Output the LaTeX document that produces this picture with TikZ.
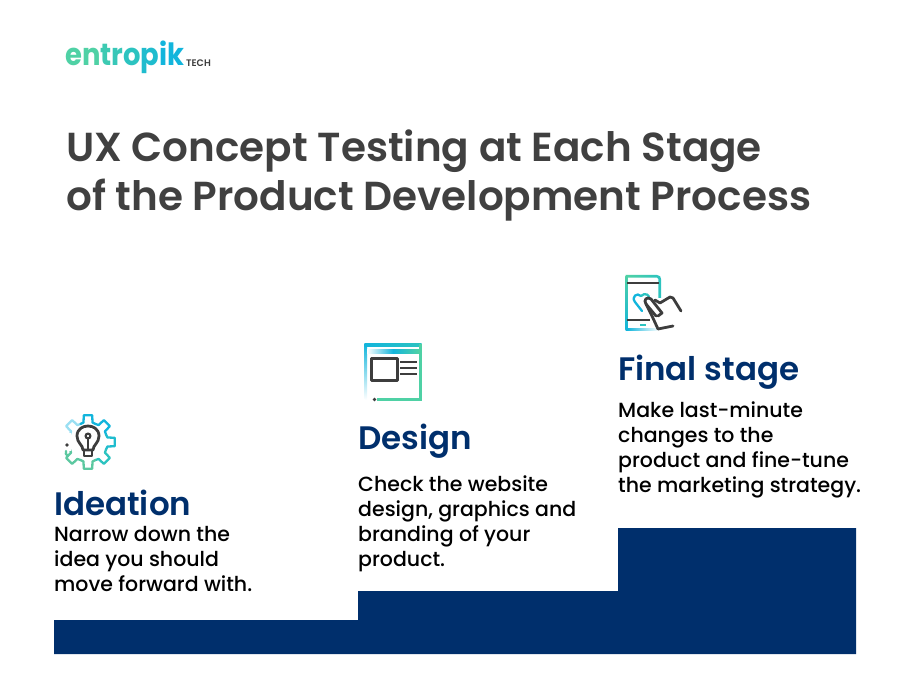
\documentclass[tikz,border=0pt]{standalone}
\usepackage{fontspec}
\setmainfont{Poppins Medium}[BoldFont={Poppins SemiBold}]
\newfontfamily\logofont{Poppins Bold}
\definecolor{navy}{HTML}{002F6C}
\definecolor{titlegray}{HTML}{404040}
\definecolor{ink}{HTML}{3D3D3D}
\definecolor{tealA}{HTML}{4FD1A5}
\definecolor{tealB}{HTML}{2CC3C0}
\definecolor{blueA}{HTML}{12B5DC}
\definecolor{blueB}{HTML}{9ADFF2}
\definecolor{greenA}{HTML}{5CC8A0}
\tikzset{
  titletext/.style={anchor=west,inner sep=0pt,text=titlegray,font=\fontsize{40.5}{40}\selectfont\bfseries},
  headtext/.style={anchor=west,inner sep=0pt,text=navy,font=\fontsize{32.5}{32}\selectfont\bfseries},
  bodytext/.style={anchor=north west,inner sep=0pt,align=left,text=black,font=\fontsize{20.5}{25}\selectfont},
  iconline/.style={line width=2.3pt,line join=round,line cap=round},
  inkline/.style={line width=2.8pt,draw=ink,line join=round,line cap=round},
}
\begin{document}
\begin{tikzpicture}[x=1pt,y=-1pt]
\useasboundingbox (0,0) rectangle (900,692);
% logo
\node[anchor=west,inner sep=0pt,yscale=1.12,font=\logofont\fontsize{27.4}{28}\selectfont] (logo) at (65,57.5)
 {\textcolor{tealA}{e}\textcolor{tealA}{n}\textcolor{tealB!50!tealA}{t}\textcolor{tealB!70!tealA}{r}\textcolor{tealB}{o}\textcolor{tealB!50!blueA}{p}\textcolor{blueA}{i}\textcolor{blueA}{k}};
\node[anchor=west,inner sep=0pt,text=ink,font=\fontsize{9.5}{10}\selectfont\bfseries] (tech) at (186,63) {TECH};
% title
\node[titletext] (t1) at (66,151) {UX Concept Testing at Each Stage};
\node[titletext] (t2) at (66,200) {of the Product Development Process};
% stairs
\fill[navy] (54,620) -- (358,620) -- (358,591) -- (618,591) -- (618,528) -- (856,528) -- (856,654) -- (54,654) -- cycle;
% headings and body
\node[headtext] (h1) at (54,503) {Ideation};
\node[bodytext] (b1) at (54,526) {Narrow down the\\idea you should\\move forward with.};
\node[headtext] (h2) at (358,441) {Design};
\node[bodytext] (b2) at (358,476) {Check the website\\design, graphics and\\branding of your\\product.};
\node[headtext] (h3) at (618,372) {Final stage};
\node[bodytext] (b3) at (618,402) {Make last-minute\\changes to the\\product and fine-tune\\the marketing strategy.};
% ideation icon: gear
\begin{scope}[shift={(88,442)}]
  \foreach \a/\c in {135/blueB,90/blueA,45/blueA,0/blueA!50!tealB,-45/tealB,-90/greenA,-135/greenA}{
    \begin{scope}[rotate=\a]
      \draw[iconline,draw=\c] (-22.5:19.5) -- (-13:20) -- (-9:27) -- (9:27) -- (13:20) -- (22.5:19.5);
    \end{scope}
  }
  \fill[white] (-30,-9) rectangle (-17,9);
  \draw[iconline,draw=greenA] (-20,14) .. controls (-22,13) and (-23,11) .. (-22,9);
  \fill[ink] (-21,3) circle (1.9);
  \draw[inkline] (-5,8) .. controls (-5,3) and (-11,1) .. (-11,-6) .. controls (-11,-13) and (-5,-16) .. (0,-16) .. controls (5,-16) and (11,-13) .. (11,-6) .. controls (11,1) and (5,3) .. (5,8) -- cycle;
  \draw[inkline] (-4,8) -- (-4,14) -- (4,14) -- (4,8);
  \draw[inkline,line width=2.2pt] (0,8) -- (0,-4);
  \draw[inkline,line width=2.2pt] (0,-6) circle (2.4);
\end{scope}
% design icon: window
\shade[top color=blueA,bottom color=white] (364.5,344) rectangle (367,400);
\shade[left color=blueA,right color=tealB] (364.5,344) rectangle (421.5,346.5);
\fill[tealA] (419,344) rectangle (421.5,401);
\fill[tealA] (377,398.5) rectangle (421.5,401);
\shade[left color=white,right color=tealA,middle color=blueA] (367,350) rectangle (419,353.5);
\fill[ink] (374.5,399.5) circle (1.9);
\draw[inkline,line cap=butt,line width=3pt] (371,359) rectangle (397,381);
\draw[inkline,line cap=butt,line width=2.6pt] (400,362) -- (417,362) (400,368) -- (417,368) (400,374) -- (417,374);
% final stage icon: phone and hand
\shade[top color=tealA,bottom color=blueA,rounded corners=2pt] (625,275) rectangle (627.6,331);
\shade[left color=tealA,right color=tealB] (627,275) -- (657,275) .. controls (660,275) and (661,277) .. (661,279) -- (661,298) -- (658.4,298) -- (658.4,279) .. controls (658.4,278) and (658,277.6) .. (657,277.6) -- (627,277.6) -- cycle;
\shade[left color=blueA,right color=white] (627,328.4) rectangle (659,331);
\draw[iconline,draw=blueA] (642,311) -- (635,302) .. controls (631,297) and (637,292) .. (641,296);
\draw[iconline,draw=tealB] (641,296) .. controls (645,292) and (650,295) .. (649,299);
\draw[inkline,line cap=butt,line width=2.4pt] (627,283) -- (659,283) (627,320) -- (650,320);
\fill[tealB] (640,324) rectangle (646,326.5);
\draw[inkline,fill=white] (673,326) -- (658,329) -- (652,316) -- (646,304) .. controls (643,300) and (647,296) .. (651,299) -- (662,313) -- (658,316);
\draw[inkline] (655,300) -- (660,303) -- (670,297) -- (673,298) -- (681,311);
\draw[inkline] (646,304) -- (656,316);
\end{tikzpicture}
\end{document}
